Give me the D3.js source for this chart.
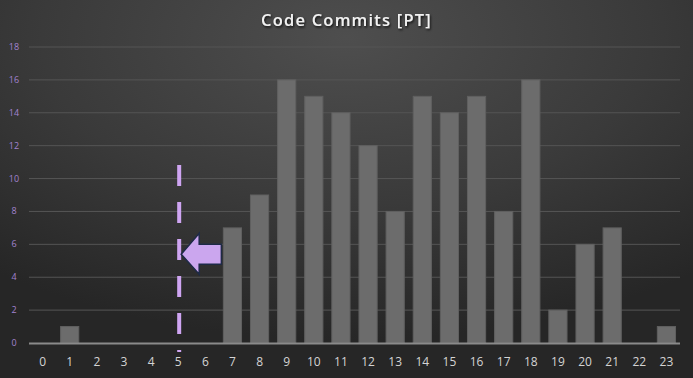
<!DOCTYPE html>
<html><head><meta charset="utf-8">
<script src="https://cdn.jsdelivr.net/npm/d3@7"></script>
<style>html,body{margin:0;padding:0;background:#2a2a2a;overflow:hidden}</style>
</head><body>
<script>
const hours = d3.range(24).map(String);
const commits = [0,1,0,0,0,0,0,7,9,16,15,14,12,8,15,14,15,8,16,2,6,7,0,1];
const yTicks = [0,2,4,6,8,10,12,14,16,18];
const markerHour = "5";
const arrowValue = 5.4;
const title = "Code Commits [PT]";

const W = 693, H = 378;
const svg = d3.select("body").append("svg").attr("width", W).attr("height", H);
const defs = svg.append("defs");
const rg = defs.append("radialGradient").attr("id","bg").attr("cx","50%").attr("cy","10%").attr("r","80%");
rg.append("stop").attr("offset","0%").attr("stop-color","#4e4e4e");
rg.append("stop").attr("offset","55%").attr("stop-color","#3a3a3a");
rg.append("stop").attr("offset","100%").attr("stop-color","#262626");
svg.append("rect").attr("width",W).attr("height",H).attr("fill","url(#bg)");
const f = defs.append("filter").attr("id","ts").attr("x","-10%").attr("y","-30%").attr("width","120%").attr("height","160%");
f.append("feDropShadow").attr("dx",1).attr("dy",1.5).attr("stdDeviation",1).attr("flood-color","#000").attr("flood-opacity",0.8);

const x = d3.scaleBand().domain(hours).range([29,680]).paddingInner(0.33).paddingOuter(0.165);
const y = d3.scaleLinear().domain([0,18]).range([343,47]);

// grid
svg.append("g").selectAll("line").data(yTicks.filter(d=>d>0)).join("line")
  .attr("x1",29).attr("x2",680).attr("y1",d=>y(d)).attr("y2",d=>y(d))
  .attr("stroke","#555").attr("stroke-width",1);

// y labels
svg.append("g").selectAll("text").data(yTicks).join("text")
  .attr("x",14).attr("y",d=>y(d)+3).attr("text-anchor","middle")
  .attr("font-family","Open Sans, sans-serif").attr("font-size",9)
  .attr("fill","#a383cf").text(d=>d);

// bars
svg.append("g").selectAll("rect").data(hours).join("rect")
  .attr("x",d=>x(d)).attr("width",x.bandwidth())
  .attr("y",(d,i)=>y(commits[i])).attr("height",(d,i)=>y(0)-y(commits[i]))
  .attr("fill","#6c6c6c").attr("stroke","#606060").attr("stroke-width",1);

// baseline
svg.append("line").attr("x1",29).attr("x2",680).attr("y1",y(0)+0.5).attr("y2",y(0)+0.5)
  .attr("stroke","#8a8a8a").attr("stroke-width",2);

// x labels
svg.append("g").selectAll("text").data(hours).join("text")
  .attr("x",d=>x(d)+x.bandwidth()/2).attr("y",366).attr("text-anchor","middle")
  .attr("font-family","Open Sans, sans-serif").attr("font-size",12)
  .attr("fill","#d4d4d4").text(d=>d);

// dashed marker
const mx = x(markerHour)+x.bandwidth()/2 + 1;
svg.append("line").attr("x1",mx).attr("x2",mx).attr("y1",165).attr("y2",352)
  .attr("stroke","#cfa5f2").attr("stroke-width",4).attr("stroke-dasharray","21 16");

// arrow
const ay = y(arrowValue);
const tip = mx+2, hb = tip+18, tail = x("7")-2;
const arrowPts = [[tip,ay],[hb,ay-21],[hb,ay-10],[tail,ay-10],[tail,ay+10],[hb,ay+10],[hb,ay+20]];
svg.append("path").attr("d","M"+arrowPts.map(p=>p.join(",")).join("L")+"Z")
  .attr("fill","#cba6ee").attr("stroke","#1e2a46").attr("stroke-width",1.5);

// title
svg.append("text").attr("x",W/2).attr("y",26).attr("text-anchor","middle")
  .attr("font-family","Open Sans, sans-serif").attr("font-weight","600").attr("font-size",16.5)
  .attr("letter-spacing",1.2).attr("fill","#f2f2f2").attr("filter","url(#ts)").text(title);
</script>
</body></html>
